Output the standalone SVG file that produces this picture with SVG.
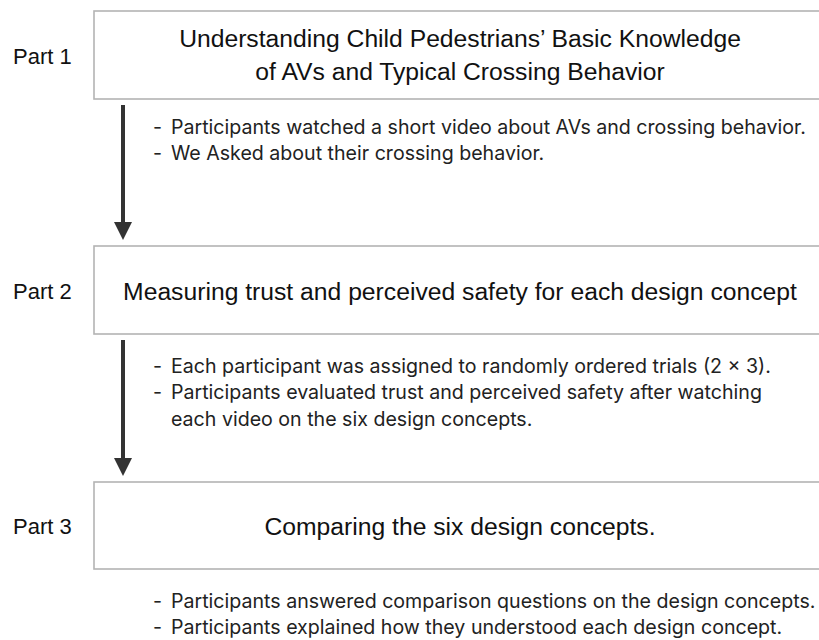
<svg xmlns="http://www.w3.org/2000/svg" width="819" height="640" viewBox="0 0 819 640">
  <style>
    .box { fill: #ffffff; stroke: #b3b3b3; stroke-width: 1.6; }
    .label { font-family: "Liberation Sans", Arial, sans-serif; font-size: 22px; fill: #111; }
    .title { font-family: "Liberation Sans", Arial, sans-serif; font-size: 24.7px; fill: #111; text-anchor: middle; }
    .note { font-family: Inter, "Noto Sans", sans-serif; font-size: 19.6px; fill: #222; }
    .shaft { stroke: #333; stroke-width: 4; }
    .head { fill: #333; }
  </style>
  <rect width="819" height="640" fill="#ffffff"/>

  <!-- Part 1 -->
  <g id="part1">
    <text class="label" x="13" y="64">Part 1</text>
    <rect class="box" x="94" y="11" width="760" height="88"/>
    <text class="title" x="460" y="47">Understanding Child Pedestrians’ Basic Knowledge</text>
    <text class="title" x="460" y="80">of AVs and Typical Crossing Behavior</text>
  </g>

  <g id="notes1">
    <text class="note" x="153" y="134">-</text>
    <text class="note" x="171" y="134">Participants watched a short video about AVs and crossing behavior.</text>
    <text class="note" x="153" y="160">-</text>
    <text class="note" x="171" y="160">We Asked about their crossing behavior.</text>
  </g>

  <!-- Part 2 -->
  <g id="part2">
    <text class="label" x="13" y="299">Part 2</text>
    <rect class="box" x="94" y="246" width="760" height="88"/>
    <text class="title" x="460" y="300">Measuring trust and perceived safety for each design concept</text>
  </g>

  <g id="notes2">
    <text class="note" x="153" y="373">-</text>
    <text class="note" x="171" y="373">Each participant was assigned to randomly ordered trials (2 × 3).</text>
    <text class="note" x="153" y="399">-</text>
    <text class="note" x="171" y="399">Participants evaluated trust and perceived safety after watching</text>
    <text class="note" x="171" y="426">each video on the six design concepts.</text>
  </g>

  <!-- Part 3 -->
  <g id="part3">
    <text class="label" x="13" y="534">Part 3</text>
    <rect class="box" x="94" y="482" width="760" height="87"/>
    <text class="title" x="460" y="535">Comparing the six design concepts.</text>
  </g>

  <g id="notes3">
    <text class="note" x="153" y="608">-</text>
    <text class="note" x="171" y="608">Participants answered comparison questions on the design concepts.</text>
    <text class="note" x="153" y="634">-</text>
    <text class="note" x="171" y="634">Participants explained how they understood each design concept.</text>
  </g>

  <!-- Connectors -->
  <g id="connectors">
    <line class="shaft" x1="123" y1="105" x2="123" y2="224"/>
    <polygon class="head" points="114,222 132,222 123,240"/>
    <line class="shaft" x1="123" y1="340" x2="123" y2="460"/>
    <polygon class="head" points="114,458 132,458 123,476"/>
  </g>
</svg>
